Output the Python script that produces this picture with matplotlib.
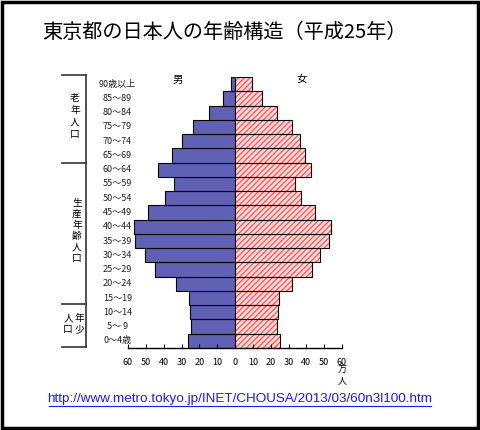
import matplotlib
matplotlib.use('Agg')
import matplotlib.pyplot as plt
import numpy as np

plt.rcParams['font.family'] = ['Noto Sans CJK JP', 'DejaVu Sans']

# 年齢階級（下から上へ）
ages = ['0～4歳', '5～ 9', '10～14', '15～19', '20～24', '25～29', '30～34',
        '35～39', '40～44', '45～49', '50～54', '55～59', '60～64', '65～69',
        '70～74', '75～79', '80～84', '85～89', '90歳以上']
# 人口（万人）
male = [26.2, 24.5, 25.1, 25.7, 33.0, 44.8, 50.2, 56.0, 56.7, 48.9,
        39.1, 34.4, 42.9, 35.4, 30.0, 23.8, 14.4, 6.7, 2.2]
female = [25.1, 23.8, 24.2, 24.5, 32.0, 43.0, 47.4, 52.8, 53.9, 45.0,
          37.2, 33.9, 42.7, 39.1, 36.7, 32.2, 23.8, 15.0, 9.5]
ticks = [-60, -50, -40, -30, -20, -10, 0, 10, 20, 30, 40, 50, 60]

W, H = 480, 430
fig = plt.figure(figsize=(W / 100, H / 100), dpi=100)

# overlay in pixel coordinates for frame, title, brackets
bg = fig.add_axes([0, 0, 1, 1])
bg.set_xlim(0, W)
bg.set_ylim(H, 0)
bg.axis('off')

bg.add_patch(plt.Rectangle((1.5, 1.5), W - 3.5, H - 3.5, fill=False, ec='black', lw=2.5))
bg.text(42, 32, '東京都の日本人の年齢構造（平成25年）', fontsize=14.5, va='center', ha='left')

# group brackets
bg.plot([86, 86], [75, 347], color='#333333', lw=1.2)
for yy in [75, 163, 304, 347]:
    bg.plot([62, 86], [yy, yy], color='#333333', lw=1.2)

def vtext(x, y0, chars, step):
    for i, c in enumerate(chars):
        bg.text(x, y0 + i * step, c, fontsize=7, ha='center', va='center')

vtext(75, 98, '老年人口', 12)
vtext(77, 203, '生産年齢人口', 11)
vtext(79, 318, '年少', 11)
vtext(68, 318, '人口', 11)

bg.text(178, 80, '男', fontsize=7.5, ha='center', va='center')
bg.text(302, 79, '女', fontsize=7.5, ha='center', va='center')
bg.text(342, 370, '万', fontsize=6.5, ha='center', va='center')
bg.text(342, 381, '人', fontsize=6.5, ha='center', va='center')

url = 'http://www.metro.tokyo.jp/INET/CHOUSA/2013/03/60n3l100.htm'
bg.text(240, 399, url, fontsize=9.7, ha='center', va='center', color='#1a1aff',
        family='Liberation Sans')
bg.plot([49, 431], [406, 406], color='#1a1aff', lw=0.8)

# pyramid
ax = fig.add_axes([128 / W, 1 - 348 / H, 214 / W, 271 / H])
ax.patch.set_alpha(0)
y = np.arange(len(ages))
ax.barh(y, [-m for m in male], height=1.0, color='#6060b4', edgecolor='black', lw=0.8)
ax.barh(y, female, height=1.0, color='#ffdede', edgecolor='#ff5a5a', hatch='//////', lw=0)
ax.barh(y, female, height=1.0, fill=False, edgecolor='black', lw=0.8)

for i, lab in enumerate(ages):
    ax.text(-66, i, lab, fontsize=6.5, ha='center', va='center', color='#222222')

ax.set_xlim(-60, 60)
ax.set_ylim(-0.5, len(ages) - 0.5)
ax.set_yticks([])
ax.set_xticks(ticks)
ax.set_xticklabels([str(abs(t)) for t in ticks], fontsize=6.5)
ax.tick_params(axis='x', direction='in', length=3, pad=7)
for s in ['left', 'top', 'right']:
    ax.spines[s].set_visible(False)
ax.spines['bottom'].set_linewidth(1.0)

fig.savefig('out.png', dpi=100)
